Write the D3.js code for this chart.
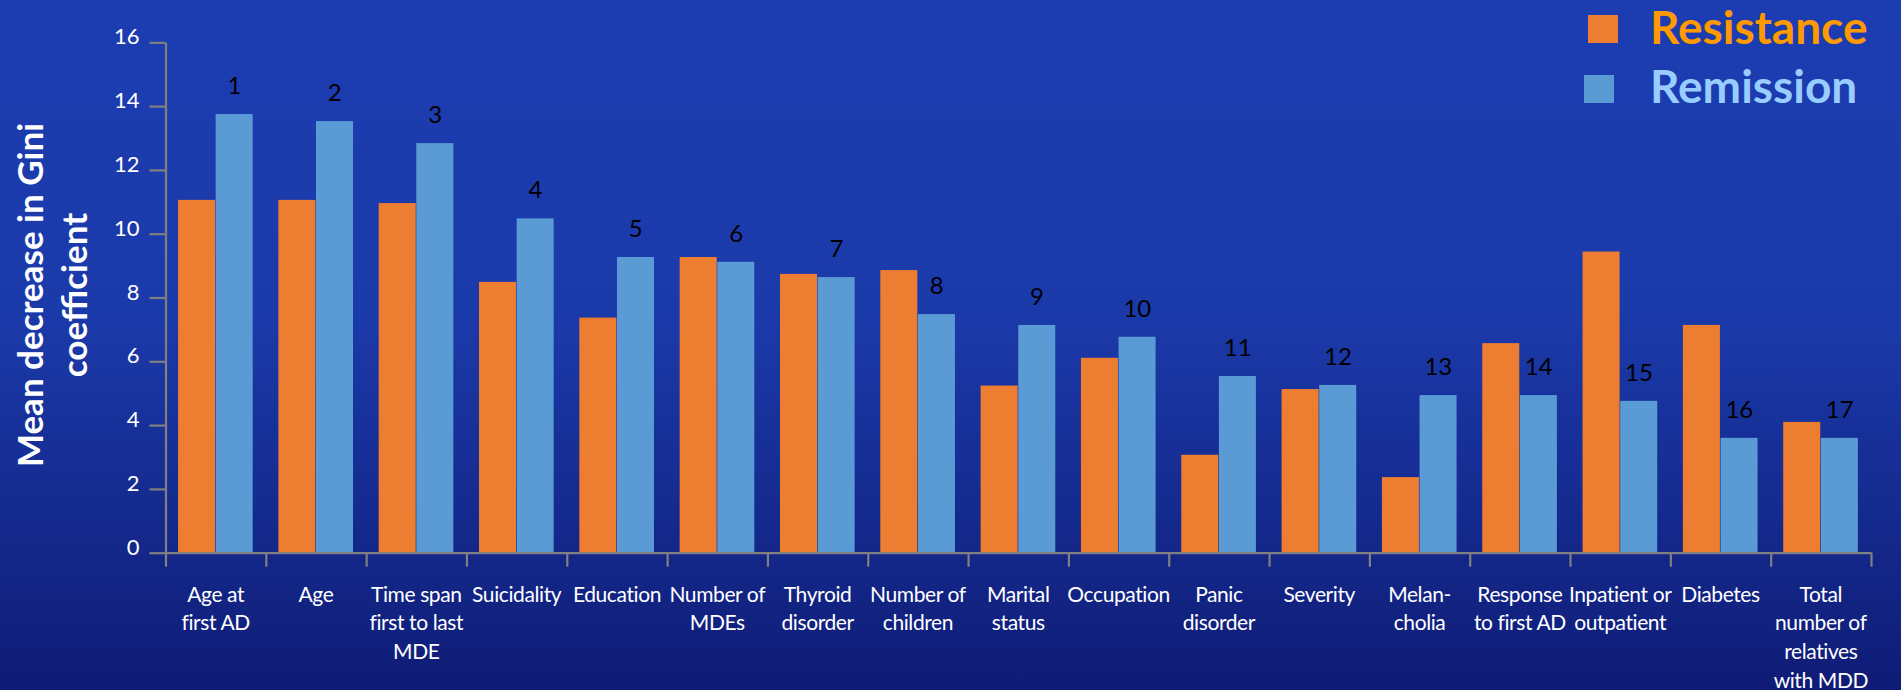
<!DOCTYPE html>
<html>
<head>
<meta charset="utf-8">
<script src="https://cdn.jsdelivr.net/npm/d3@7"></script>
<style>
  body { margin: 0; }
  svg { display: block; }
  text { font-family: Lato, "Open Sans", sans-serif; }
</style>
</head>
<body>
<svg id="drawing_region"></svg>
<script>
var categories = [
    ["Age at", "first AD"], ["Age"], ["Time span", "first to last", "MDE"], ["Suicidality"],
    ["Education"], ["Number of", "MDEs"], ["Thyroid", "disorder"], ["Number of", "children"],
    ["Marital", "status"], ["Occupation"], ["Panic", "disorder"], ["Severity"],
    ["Melan-", "cholia"], ["Response", "to first AD"], ["Inpatient or", "outpatient"],
    ["Diabetes"], ["Total", "number of", "relatives", "with MDD"]
];
var ranks = ["1","2","3","4","5","6","7","8","9","10","11","12","13","14","15","16","17"];
var resistance = [11.06, 11.06, 10.96, 8.49, 7.37, 9.27, 8.74, 8.86, 5.24, 6.11, 3.07, 5.13, 2.37, 6.57, 9.44, 7.14, 4.10];
var remission  = [13.75, 13.53, 12.84, 10.48, 9.27, 9.12, 8.64, 7.48, 7.14, 6.77, 5.54, 5.26, 4.94, 4.94, 4.76, 3.60, 3.60];
var yTicks = [0, 2, 4, 6, 8, 10, 12, 14, 16];
var seriesNames = ["Resistance", "Remission"];

var width = 1901, height = 690;
var colors = { Resistance: "#ED7D31", Remission: "#5B9BD5" };
var legendText = { Resistance: "#FF9900", Remission: "#99CCFF" };

var svg = d3.select('#drawing_region')
    .attr('width', width)
    .attr('height', height);

// background gradient
var grad = svg.append('defs').append('linearGradient')
    .attr('id', 'bg').attr('x1', 0).attr('y1', 0).attr('x2', 0).attr('y2', 1);
grad.append('stop').attr('offset', '0%').attr('stop-color', '#1C3DB1');
grad.append('stop').attr('offset', '45%').attr('stop-color', '#1B3AAA');
grad.append('stop').attr('offset', '100%').attr('stop-color', '#0F1C76');
svg.append('rect').attr('width', width).attr('height', height).attr('fill', 'url(#bg)');

var plotLeft = 165.5, plotRight = 1871, plotTop = 42.3, plotBottom = 552.7;

var xScale = d3.scaleBand()
    .domain(d3.range(categories.length))
    .range([plotLeft, plotRight])
    .paddingInner(0.25)
    .paddingOuter(0.125);

var xSub = d3.scaleBand()
    .domain(seriesNames)
    .range([0, xScale.bandwidth()]);

var xEdge = d3.scaleLinear()
    .domain([0, categories.length])
    .range([plotLeft, plotRight]);

var yScale = d3.scaleLinear()
    .domain([0, 16])
    .range([plotBottom, plotTop]);

// bars
var rows = categories.map(function(c, i) {
    return { i: i, Resistance: resistance[i], Remission: remission[i] };
});

var groups = svg.selectAll('g.cat')
    .data(rows)
    .enter()
    .append('g')
    .attr('class', 'cat')
    .attr('transform', d => 'translate(' + xScale(d.i) + ',0)');

groups.selectAll('rect')
    .data(d => seriesNames.map(k => ({ key: k, value: d[k] })))
    .enter()
    .append('rect')
    .attr('x', d => xSub(d.key))
    .attr('y', d => yScale(d.value))
    .attr('width', xSub.bandwidth() - 0.6)
    .attr('height', d => yScale(0) - yScale(d.value))
    .attr('fill', d => colors[d.key]);

// rank labels above remission bars
groups.append('text')
    .attr('x', xSub('Remission') + xSub.bandwidth() / 2)
    .attr('y', d => yScale(d.Remission) - 20)
    .attr('text-anchor', 'middle')
    .style('font-size', '24px')
    .style('fill', '#000')
    .text(d => ranks[d.i]);

// y axis
var yAxis = svg.append('g')
    .attr('transform', 'translate(' + plotLeft + ',0)')
    .call(d3.axisLeft(yScale).tickValues(yTicks).tickSizeInner(16).tickSizeOuter(0).tickPadding(10));

// x axis (ticks at category edges)
var xAxis = svg.append('g')
    .attr('transform', 'translate(0,' + plotBottom + ')')
    .call(d3.axisBottom(xEdge).tickValues(d3.range(categories.length + 1))
        .tickFormat('').tickSizeInner(14).tickSizeOuter(0));

[yAxis, xAxis].forEach(function(ax) {
    ax.select('.domain').attr('stroke', '#808080').attr('stroke-width', 2.2);
    ax.selectAll('.tick line').attr('stroke', '#808080').attr('stroke-width', 2.2);
});
yAxis.selectAll('.tick text')
    .attr('dy', '0.07em')
    .style('font-size', '22px')
    .style('font-family', 'Lato, sans-serif')
    .attr('fill', '#fff');

// category labels
var catLabels = svg.selectAll('text.cat-label')
    .data(categories)
    .enter()
    .append('text')
    .attr('class', 'cat-label')
    .attr('text-anchor', 'middle')
    .style('font-size', '21px')
    .style('letter-spacing', '-0.4px')
    .attr('fill', '#fff');

catLabels.selectAll('tspan')
    .data((d, i) => d.map(line => ({ line: line, i: i })))
    .enter()
    .append('tspan')
    .attr('x', d => xScale(d.i) + xScale.bandwidth() / 2)
    .attr('y', (d, j) => 601.5 + j * 28.7)
    .text(d => d.line);

// y axis title
var yTitle = svg.append('text')
    .attr('transform', 'translate(0,295) rotate(-90)')
    .attr('text-anchor', 'middle')
    .style('font-size', '35px')
    .style('font-weight', 'bold')
    .attr('fill', '#fff');
yTitle.append('tspan').attr('x', 0).attr('y', 42.5).text('Mean decrease in Gini');
yTitle.append('tspan').attr('x', 0).attr('y', 87).text('coefficient');

// legend
var legend = svg.selectAll('g.legend')
    .data(seriesNames)
    .enter()
    .append('g')
    .attr('class', 'legend');

legend.append('rect')
    .attr('x', (d, i) => i === 0 ? 1588 : 1584)
    .attr('y', (d, i) => i === 0 ? 15 : 75)
    .attr('width', 30)
    .attr('height', 28)
    .attr('fill', d => colors[d]);

legend.append('text')
    .attr('x', 1650)
    .attr('y', (d, i) => i === 0 ? 44.3 : 102.7)
    .style('font-size', '46px')
    .style('font-weight', 'bold')
    .attr('fill', d => legendText[d])
    .text(d => d);
</script>
</body>
</html>
